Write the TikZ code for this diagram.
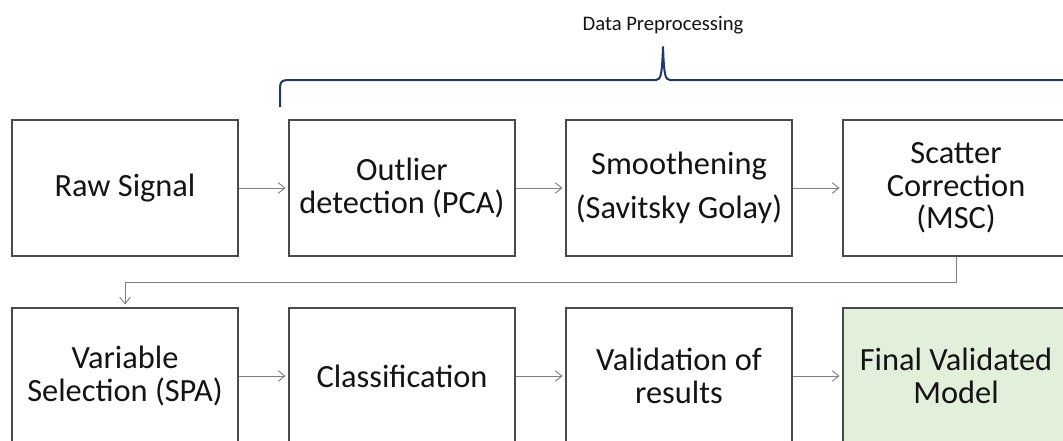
\documentclass[tikz,border=0pt]{standalone}
\usepackage{fontspec}
\setmainfont{Carlito}
\usetikzlibrary{arrows.meta}
\definecolor{boxline}{HTML}{4A4A4A}
\definecolor{flowline}{HTML}{7F7F7F}
\definecolor{bracecol}{HTML}{1F3864}
\definecolor{donefill}{HTML}{E2EFDA}
\definecolor{inktext}{HTML}{141414}
\begin{document}
\begin{tikzpicture}[x=0.75pt,y=-0.75pt,
  stagebox/.style={draw=boxline,line width=1.1pt,minimum width=169.5pt,
    minimum height=102pt,align=center,inner sep=0pt,text=inktext,
    font=\fontsize{24.3}{24.5}\selectfont},
  finalbox/.style={stagebox,fill=donefill},
  flow/.style={draw=flowline,line width=0.75pt,
    -{Straight Barb[length=5pt,width=8pt,line width=0.7pt]},shorten >=2pt},
  bracepath/.style={draw=bracecol,line width=1.5pt},
  bracelabel/.style={text=inktext,font=\fontsize{15.5}{18}\selectfont}]
\clip (0,0) rectangle (1063,440);
\fill[white] (0,0) rectangle (1063,440);

% first row: raw signal and the three preprocessing steps
\node[stagebox] (raw)     at (125,188) {Raw Signal};
\node[stagebox] (outlier) at (402,188) {Outlier\\detection (PCA)};
\node[stagebox] (smooth)  at (679,188) {Smoothening\\[9pt](Savitsky Golay)};
\node[stagebox] (scatter) at (956,188) {Scatter\\Correction\\(MSC)};

% second row: modelling steps
\node[stagebox] (varsel)   at (125,376) {Variable\\Selection (SPA)};
\node[stagebox] (classify) at (402,376) {Classification};
\node[stagebox] (validate) at (679,376) {Validation of\\results};
\node[finalbox] (final)    at (956,376) {Final Validated\\Model};

% connectors
\draw[flow] (raw) -- (outlier);
\draw[flow] (outlier) -- (smooth);
\draw[flow] (smooth) -- (scatter);
\coordinate (turnA) at (956,282);
\coordinate (turnB) at (125,282);
\draw[flow] (scatter.south) -- (turnA) -- (turnB) -- (varsel.north);
\draw[flow] (varsel) -- (classify);
\draw[flow] (classify) -- (validate);
\draw[flow] (validate) -- (final);

% brace over the preprocessing steps
\coordinate (braceL) at (280,107);
\coordinate (braceTip) at (663,47);
\coordinate (braceR) at (1075,80);
\draw[bracepath,line join=round] (braceL) -- (280,88)
  .. controls (280,82) and (282,80) .. (288,80) -- (656,80)
  .. controls (661,80) and (662,74) .. (braceTip)
  .. controls (664,74) and (665,80) .. (670,80) -- (braceR);
\node[bracelabel] (prep) at (663,25) {Data Preprocessing};
\end{tikzpicture}
\end{document}
